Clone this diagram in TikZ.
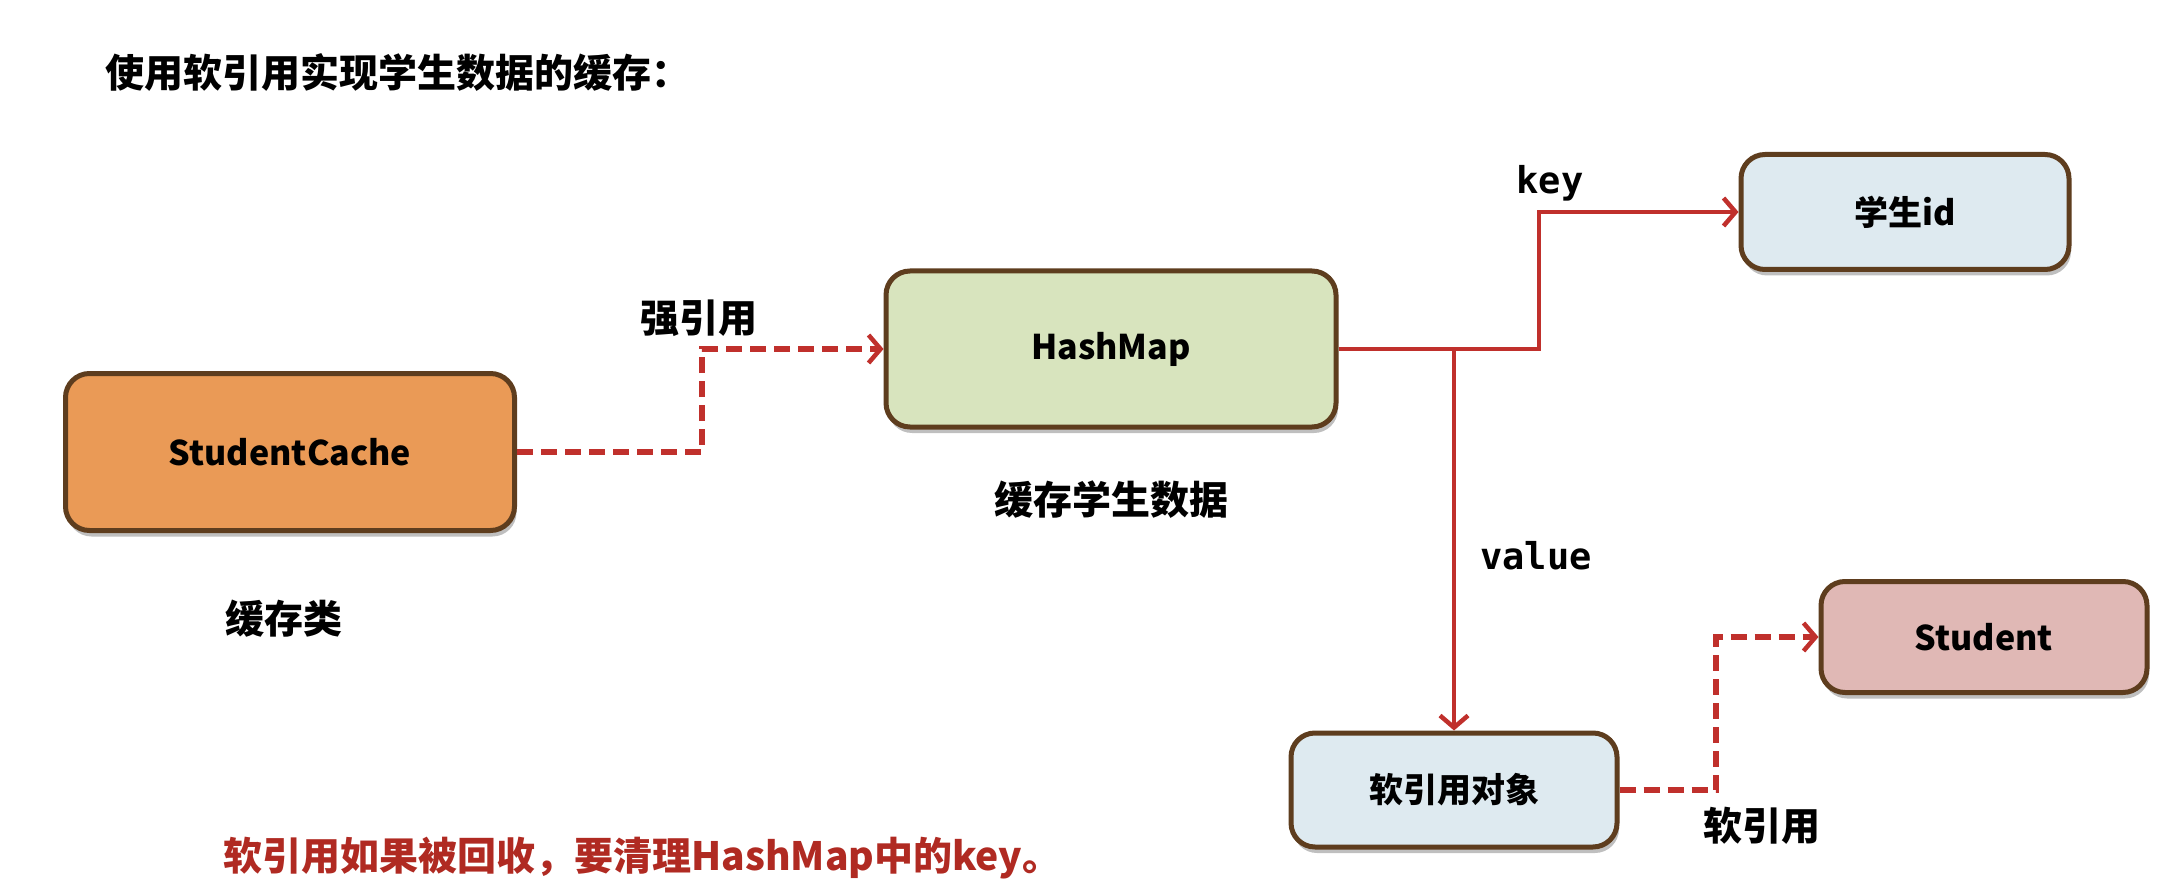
\documentclass[tikz,border=0pt]{standalone}
\usepackage{fontspec}
\newfontfamily\cjk{Noto Sans CJK SC}
\newfontfamily\monof{DejaVu Sans Mono}
\definecolor{BoxBrown}{HTML}{5E3D1E}
\definecolor{CacheOrange}{HTML}{EA9A56}
\definecolor{MapGreen}{HTML}{D8E4BE}
\definecolor{IdBlue}{HTML}{DEEAF0}
\definecolor{StudentPink}{HTML}{E0B8B5}
\definecolor{RefRed}{HTML}{C0302C}
\definecolor{NoteRed}{HTML}{B02A22}
\usetikzlibrary{positioning,arrows.meta,shadows}

\begin{document}
\begin{tikzpicture}[x=1pt,y=-1pt,
      >={Straight Barb[length=12pt,width=28pt,line width=4.5pt]},
      box/.style={draw=BoxBrown,line width=5pt,rounded corners=24pt,
                  font=\cjk\bfseries\fontsize{34}{40}\selectfont,
                  drop shadow={shadow xshift=2pt,shadow yshift=-6pt,opacity=0.25,fill=black}},
      lbl/.style={font=\cjk\bfseries\fontsize{39}{44}\selectfont},
      code/.style={font=\monof\bfseries\fontsize{37}{42}\selectfont},
      arrow/.style={->,line width=4.5pt,draw=RefRed},
      dasharrow/.style={arrow,line width=6pt,dash pattern=on 16pt off 8pt}]
    \useasboundingbox (0,0) rectangle (2170,890);
    \node[box,fill=CacheOrange,minimum width=449pt,minimum height=157pt] (cache) at (290,452) {StudentCache};
    \node[box,fill=MapGreen,minimum width=450pt,minimum height=156pt] (hm) at (1111,349) {HashMap};
    \node[box,fill=IdBlue,minimum width=328pt,minimum height=115pt] (sid) at (1905,212) {学生id};
    \node[box,fill=IdBlue,minimum width=326pt,minimum height=114pt] (sr) at (1454,790) {软引用对象};
    \node[box,fill=StudentPink,minimum width=326pt,minimum height=111pt] (stu) at (1984,637) {Student};
    \node[lbl,anchor=west] (title) at (102,72) {使用软引用实现学生数据的缓存：};
    \node[lbl] (cachelbl) at (284,619) {缓存类};
    \node[lbl] (hmlbl) at (1111,500) {缓存学生数据};
    \node[lbl] (strong) at (699,318) {强引用};
    \node[lbl] (soft) at (1762,826) {软引用};
    \node[code] (keylbl) at (1550,183) {key};
    \node[code] (vallbl) at (1536,556) {value};
    \node[lbl,text=NoteRed,anchor=west] (note) at (220,858) {软引用如果被回收，要清理HashMap中的key。};
    \coordinate (sbend) at (702,452);
    \coordinate (kbend) at (1539,349);
    \coordinate (rbend) at (1716,790);
    \draw[dasharrow] (cache.east) -- (sbend) |- (hm.west);
    \draw[arrow] (hm.east) -- (kbend) |- (sid.west);
    \draw[arrow] (hm.east) -| (sr.north);
    \draw[dasharrow] (sr.east) -- (rbend) |- (stu.west);
  \end{tikzpicture}
\end{document}
